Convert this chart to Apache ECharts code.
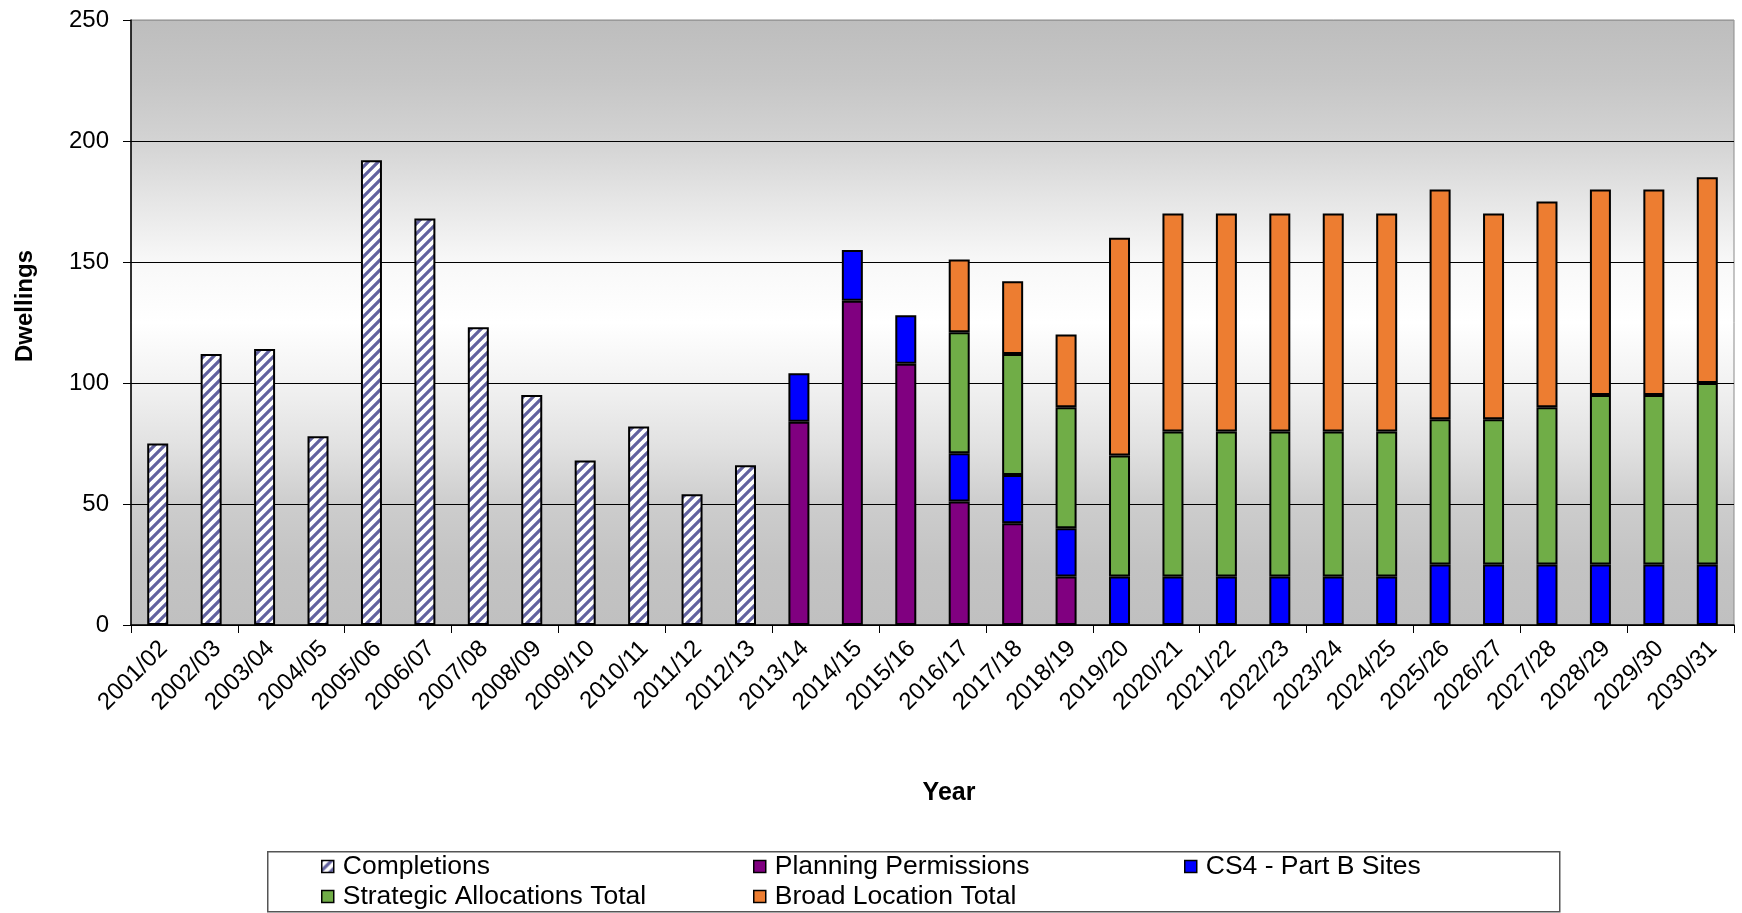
<!DOCTYPE html>
<html>
<head>
<meta charset="utf-8">
<script src="https://cdn.jsdelivr.net/npm/echarts@6/dist/echarts.min.js"></script>
<style>
html,body{margin:0;padding:0;background:#fff;}
#chart{width:1742px;height:913px;}
</style>
</head>
<body>
<div id="chart"></div>
<script>
const categories = ['2001/02','2002/03','2003/04','2004/05','2005/06','2006/07','2007/08','2008/09','2009/10','2010/11','2011/12','2012/13','2013/14','2014/15','2015/16','2016/17','2017/18','2018/19','2019/20','2020/21','2021/22','2022/23','2023/24','2024/25','2025/26','2026/27','2027/28','2028/29','2029/30','2030/31'];
const completions = [75,112,114,78,192,168,123,95,68,82,54,66,null,null,null,null,null,null,null,null,null,null,null,null,null,null,null,null,null,null];
const planningPermissions = [null,null,null,null,null,null,null,null,null,null,null,null,84,134,108,51,42,20,null,null,null,null,null,null,null,null,null,null,null,null];
const cs4PartB = [null,null,null,null,null,null,null,null,null,null,null,null,20,21,20,20,20,20,20,20,20,20,20,20,25,25,25,25,25,25];
const strategicAllocations = [null,null,null,null,null,null,null,null,null,null,null,null,null,null,null,50,50,50,50,60,60,60,60,60,60,60,65,70,70,75];
const broadLocation = [null,null,null,null,null,null,null,null,null,null,null,null,null,null,null,30,30,30,90,90,90,90,90,90,95,85,85,85,85,85];
const yTicks = [0,50,100,150,200,250];

const FONT = "'Liberation Sans', Arial, sans-serif";

// diagonal stripe pattern for Completions
const pc = document.createElement('canvas');
pc.width = 10; pc.height = 10;
const ctx = pc.getContext('2d');
ctx.fillStyle = '#ffffff';
ctx.fillRect(0,0,10,10);
ctx.strokeStyle = '#62629f';
ctx.lineWidth = 3.2;
ctx.beginPath();
ctx.moveTo(-2, 12); ctx.lineTo(12, -2);
ctx.moveTo(-12, 12); ctx.lineTo(2, -2);
ctx.moveTo(8, 12); ctx.lineTo(22, -2);
ctx.stroke();
const stripe = { image: pc, repeat: 'repeat' };

const chart = echarts.init(document.getElementById('chart'));

function barSeries(name, data, color) {
  return {
    name: name, type: 'bar', stack: 'total', data: data,
    xAxisIndex: 0, yAxisIndex: 0,
    barWidth: 21,
    itemStyle: { color: color, borderColor: '#000', borderWidth: 2 },
    emphasis: { disabled: true }
  };
}

function legendAt(name, left, top) {
  return {
    data: [name], left: left, top: top, padding: 0,
    itemWidth: 12, itemHeight: 12, icon: 'rect',
    itemStyle: { borderColor: '#000', borderWidth: 1.5 },
    textStyle: { fontFamily: FONT, fontSize: 26.5, color: '#000', padding: [0,0,0,4] },
    selectedMode: false
  };
}

chart.setOption({
  animation: false,
  backgroundColor: '#fff',
  grid: [{
    left: 131, right: 8, top: 20, bottom: 288,
    show: true,
    borderColor: '#8a8a8a', borderWidth: 1,
    backgroundColor: {
      type: 'linear', x: 0, y: 0, x2: 0, y2: 1,
      colorStops: [
        {offset: 0, color: '#bdbdbd'},
        {offset: 0.1, color: '#c6c6c6'},
        {offset: 0.2, color: '#d3d3d3'},
        {offset: 0.3, color: '#e6e6e6'},
        {offset: 0.4, color: '#f8f8f8'},
        {offset: 0.5, color: '#ffffff'},
        {offset: 0.6, color: '#f2f2f2'},
        {offset: 0.7, color: '#e2e2e2'},
        {offset: 0.8, color: '#cdcdcd'},
        {offset: 0.9, color: '#c3c3c3'},
        {offset: 1, color: '#c0c0c0'}
      ]
    }
  }, {
    left: 137, right: 2, top: 20, bottom: 288, show: false
  }],
  xAxis: [{
    type: 'category', data: categories, gridIndex: 0,
    axisLine: { lineStyle: { color: '#000', width: 1.5 } },
    axisTick: { show: true, length: 8, lineStyle: { color: '#000' } },
    axisLabel: { show: false }
  }, {
    type: 'category', data: categories, gridIndex: 1,
    axisLine: { show: false },
    axisTick: { show: false },
    axisLabel: { rotate: 45, fontFamily: FONT, fontSize: 24, color: '#000', margin: 20, interval: 0 }
  }],
  yAxis: [{
    type: 'value', min: yTicks[0], max: yTicks[yTicks.length-1], interval: 50, gridIndex: 0,
    axisLine: { show: true, lineStyle: { color: '#000', width: 1.5 } },
    axisTick: { show: true, length: 8, lineStyle: { color: '#000' } },
    axisLabel: { fontFamily: FONT, fontSize: 24, color: '#000', margin: 22 },
    splitLine: { show: true, lineStyle: { color: ['#000','#000','#000','#000','#000','#999'], width: 1.2 } }
  }, {
    type: 'value', min: yTicks[0], max: yTicks[yTicks.length-1], interval: 50, gridIndex: 1,
    show: false
  }],
  legend: [
    legendAt('Completions', 321, 853),
    legendAt('Planning Permissions', 753, 853),
    legendAt('CS4 - Part B Sites', 1184, 853),
    legendAt('Strategic Allocations Total', 321, 883),
    legendAt('Broad Location Total', 753, 883)
  ],
  graphic: [
    { type: 'rect', left: 267, top: 851, z: -1,
      shape: { width: 1292, height: 60 },
      style: { fill: '#fff', stroke: '#555', lineWidth: 1.5 } },
    { type: 'text', x: 25, y: 306, rotation: Math.PI/2,
      style: { text: 'Dwellings', font: 'bold 24px ' + FONT, fill: '#000', align: 'center', verticalAlign: 'middle' } },
    { type: 'text', x: 949, y: 793,
      style: { text: 'Year', font: 'bold 25px ' + FONT, fill: '#000', align: 'center', verticalAlign: 'middle' } }
  ],
  series: [
    barSeries('Completions', completions, stripe),
    barSeries('Planning Permissions', planningPermissions, '#800080'),
    barSeries('CS4 - Part B Sites', cs4PartB, '#0000ff'),
    barSeries('Strategic Allocations Total', strategicAllocations, '#70ad47'),
    barSeries('Broad Location Total', broadLocation, '#ed7d31')
  ]
});
</script>
</body>
</html>
